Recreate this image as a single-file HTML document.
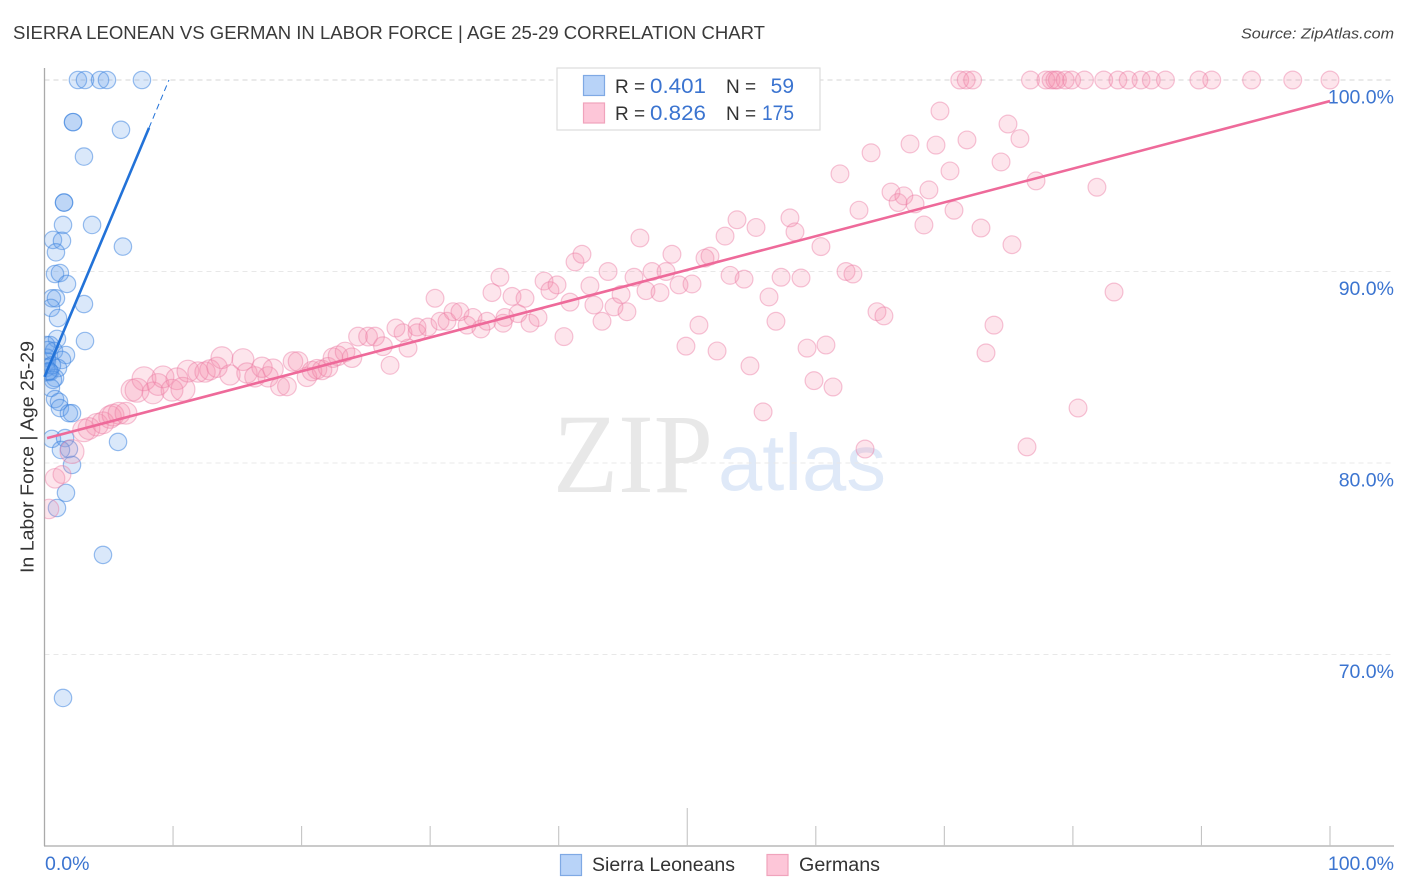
<!DOCTYPE html>
<html lang="en">
<head>
<meta charset="utf-8">
<title>Sierra Leonean vs German In Labor Force Correlation Chart</title>
<style>
html,body{margin:0;padding:0;background:#fff;width:1406px;height:892px;overflow:hidden}
svg{display:block;font-family:"Liberation Sans",sans-serif}
</style>
</head>
<body>
<svg id="chart" xmlns="http://www.w3.org/2000/svg" width="1406" height="892" viewBox="0 0 1406 892">
  <defs>
    <clipPath id="plot-clip"><rect x="44.5" y="60" width="1350" height="786"></rect></clipPath>
  </defs>
  <rect x="0" y="0" width="1406" height="892" fill="#fff"></rect>
  <text x="13" y="39" font-size="18.5" fill="#3a3a3a" textLength="752" lengthAdjust="spacingAndGlyphs">SIERRA LEONEAN VS GERMAN IN LABOR FORCE | AGE 25-29 CORRELATION CHART</text>
  <text x="1394" y="38.5" font-size="15" font-style="italic" fill="#444" text-anchor="end" textLength="153" lengthAdjust="spacingAndGlyphs">Source: ZipAtlas.com</text>
  <text transform="translate(33.5,457) rotate(-90)" font-size="18.5" fill="#333" text-anchor="middle" textLength="232" lengthAdjust="spacingAndGlyphs">In Labor Force | Age 25-29</text>
  <text x="553" y="492" font-family="'Liberation Serif',serif" font-size="113" fill="#e8e8e8" textLength="160" lengthAdjust="spacingAndGlyphs">ZIP</text>
  <text x="718" y="490" font-size="80" fill="#dfe9f8" textLength="168" lengthAdjust="spacingAndGlyphs">atlas</text>
  <g id="grid"></g>
  <g id="axes"></g>
  <g id="points" clip-path="url(#plot-clip)"></g>
  <g id="trends"></g>
  <g>
    <rect x="557" y="68" width="263" height="62" fill="#fff" stroke="#ddd" stroke-width="1.2"></rect>
    <rect x="583.5" y="75.5" width="21" height="20" fill="#b8d3f8" stroke="#7fa9e4" stroke-width="1.2"></rect>
    <rect x="583.5" y="103" width="21" height="20" fill="#fdc6d8" stroke="#f0a3bc" stroke-width="1.2"></rect>
    <text x="615" y="93" font-size="19" fill="#333">R =</text>
    <text x="650" y="93" font-size="21" fill="#3b74d0" textLength="56" lengthAdjust="spacingAndGlyphs">0.401</text>
    <text x="726" y="93" font-size="19" fill="#333">N =</text>
    <text x="794" y="93" font-size="21" fill="#3b74d0" text-anchor="end">59</text>
    <text x="615" y="120" font-size="19" fill="#333">R =</text>
    <text x="650" y="120" font-size="21" fill="#3b74d0" textLength="56" lengthAdjust="spacingAndGlyphs">0.826</text>
    <text x="726" y="120" font-size="19" fill="#333">N =</text>
    <text x="794" y="120" font-size="21" fill="#3b74d0" text-anchor="end" textLength="32" lengthAdjust="spacingAndGlyphs">175</text>
  </g>
  <g>
    <rect x="560.5" y="854.5" width="21" height="21" fill="#b8d3f8" stroke="#7fa9e4" stroke-width="1.2"></rect>
    <text x="592" y="871" font-size="19" fill="#333" textLength="143" lengthAdjust="spacingAndGlyphs">Sierra Leoneans</text>
    <rect x="767" y="854.5" width="21" height="21" fill="#fdc6d8" stroke="#f0a3bc" stroke-width="1.2"></rect>
    <text x="799" y="871" font-size="19" fill="#333" textLength="81" lengthAdjust="spacingAndGlyphs">Germans</text>
  </g>
</svg>
<script>
const xTickValues = [0, 10, 20, 30, 40, 50, 60, 70, 80, 90, 100];
const yTickValues = [100, 90, 80, 70];
const yTickLabels = ["100.0%", "90.0%", "80.0%", "70.0%"];
const xEdgeLabels = ["0.0%", "100.0%"];

const sierraX = [2.6,3.15,4.32,4.86,7.58,2.22,2.22,5.95,3.07,1.52,1.52,3.7,1.44,0.66,1.36,0.89,6.1,0.82,1.2,1.75,0.58,0.89,0.5,3.07,1.05,3.15,0.97,0.43,0.12,0.74,1.67,1.36,0.19,0.19,1.05,0.43,0.12,0.27,0.82,0.66,0.5,0.82,1.13,1.2,1.9,2.14,0.58,1.6,1.9,1.28,2.14,1.67,0.97,5.72,4.55,1.44,0.27,0.58,0.35];
const sierraY = [100,100,100,100,100,97.8,97.8,97.4,96,93.6,93.6,92.43,92.43,91.65,91.6,91,91.3,89.87,89.92,89.35,88.6,88.6,88.1,88.3,87.57,86.37,86.48,86.16,86.16,85.85,85.64,85.38,85.3,85.5,84.96,84.75,84.96,84.75,84.44,84.34,83.92,83.34,83.19,82.87,82.6,82.6,81.26,81.3,80.73,80.68,79.9,78.44,77.65,81.1,75.2,67.73,85.9,85.1,84.8];

const germanX = [0.35,0.82,1.36,2.14,3.07,3.46,4.08,4.55,5.1,5.33,5.8,6.34,6.81,7.2,7.74,8.44,8.83,9.22,10.3,9.92,10.77,11.16,11.94,12.49,12.87,13.42,13.8,14.43,15.44,15.75,16.37,16.92,17.39,17.78,18.32,18.86,19.33,19.72,20.42,20.81,21.2,21.59,22.05,22.44,22.83,23.38,23.92,24.39,25.17,25.71,26.33,26.88,28.28,27.89,28.98,
27.34,28.98,29.83,30.77,31.31,30.38,31.78,32.32,32.87,33.33,33.95,34.42,35.82,35.67,36.83,37.77,38.39,34.81,35.43,36.37,37.38,38.86,39.32,39.87,40.41,40.88,41.27,41.81,42.43,42.74,43.37,43.84,44.3,44.85,45.31,45.86,46.32,46.79,47.26,47.88,48.35,48.81,49.36,49.9,50.37,50.91,51.38,51.77,52.32,52.94,53.33,53.87,54.42,54.88,55.35,55.9,56.36,56.9,57.3,57.99,58.38,58.85,59.32,59.86,60.4,60.79,61.34,61.88,62.35,62.89,63.36,63.83,64.3,64.76,65.3,65.85,66.4,66.85,67.33,67.72,68.41,68.8,69.35,69.66,70.44,70.75,71.76,72.85,73.24,73.86,74.41,74.95,75.26,75.88,76.43,77.13,80.4,81.87,83.2,
71.2,71.7,72.2,76.7,77.9,78.3,78.6,78.8,79.4,79.9,80.9,82.4,83.5,84.3,85.3,86.1,87.2,89.8,90.8,93.9,97.1,100];
const germanY = [77.6,79.2,79.4,80.6,81.7,81.8,82,82.1,82.4,82.5,82.6,82.6,83.8,83.8,84.4,83.66,84.1,84.5,84.4,83.8,83.85,84.8,84.75,84.75,84.86,85,85.5,84.6,85.4,84.7,84.5,85,84.5,84.9,84,84,85.3,85.3,84.5,84.8,84.9,84.86,85,85.5,85.6,85.8,85.5,86.6,86.6,86.6,86.1,85.1,86,86.8,86.8,
87.05,87.1,87.1,87.4,87.4,88.6,87.9,87.9,87.2,87.6,87,87.4,87.6,87.3,87.8,87.3,87.6,88.9,89.7,88.7,88.6,89.5,89,89.3,86.6,88.4,90.5,90.9,89.25,88.25,87.4,90,88.15,88.8,87.9,89.7,91.75,89,90,88.9,90,90.9,89.3,86.1,89.35,87.2,90.7,90.8,85.85,91.85,89.8,92.7,89.6,85.07,92.3,82.67,88.67,87.4,89.7,92.8,92.07,89.66,86,84.3,91.3,86.16,83.97,95.1,90,89.87,93.2,80.73,96.2,87.9,87.68,94.15,93.6,93.95,96.66,93.53,92.43,94.26,96.6,98.38,95.25,93.2,96.87,92.27,85.75,87.2,95.72,97.7,91.4,96.94,80.84,94.73,82.87,94.4,88.93,
100,100,100,100,100,100,100,100,100,100,100,100,100,100,100,100,100,100,100,100,100,100];
const germanPop = [1.2,1.2,1,1.8,1.6,1.5,1.6,1.5,1.6,1.5,1.5,1.5,1.5,1.8,1.8,1.5,1.5,1.5,1.5,1.5,1.8,1.5,1.3,1.3,1.3,1.3,1.5,1.3,1.5,1.3,1.3,1.3,1.3,1.3,1.1,1.1,1.2,1.2,1.2,1.2,1.2,1.2,1.2,1.2,1.2,1.2,1.2,1.1,1.1,1.1,1.1];

const sierraTrendX = [0, 8.13];
const sierraTrendY = [84.5, 97.5];
const sierraDashX = [8.13, 9.68];
const sierraDashY = [97.5, 100];
const germanTrendX = [0.2, 100];
const germanTrendY = [81.3, 98.9];

const SVGNS = "http://www.w3.org/2000/svg";
const xScale = v => 44.5 + v * 12.855;
const yScale = v => 80 + (100 - v) * 19.15;
const radiusScale = p => 8.9 * Math.sqrt(p);

function make(tag, parent, attrs) {
  const el = document.createElementNS(SVGNS, tag);
  for (const k in attrs) el.setAttribute(k, attrs[k]);
  parent.appendChild(el);
  return el;
}

const gridG = document.getElementById("grid");
const axesG = document.getElementById("axes");
const pointsG = document.getElementById("points");
const trendsG = document.getElementById("trends");

yTickValues.forEach((v, i) => {
  const line = make("line", gridG, {
    x1: 44.5, x2: 1394, y1: yScale(v), y2: yScale(v),
    stroke: v === 100 ? "#d4d4d4" : "#e8e8e8", "stroke-width": 1, "stroke-dasharray": "5 4"
  });
  
  
  const label = make("text", axesG, {
    x: 1394, y: yScale(v) + 23.5, "font-size": 19.5, fill: "#3b74d0", "text-anchor": "end"
  });
  
  
  label.textContent = yTickLabels[i];
});

const yAxis = make("line", axesG, { x1: 44.5, x2: 44.5, y1: 68, y2: 846, stroke: "#aaa", "stroke-width": 1.3 });


const xAxis = make("line", axesG, { x1: 44, x2: 1394, y1: 846, y2: 846, stroke: "#aaa", "stroke-width": 1.3 });



xTickValues.forEach(v => {
  if (v === 0) return;
  const tick = make("line", axesG, {
    x1: xScale(v), x2: xScale(v), y1: v === 50 ? 808 : 826, y2: 846, stroke: "#c4c4c4", "stroke-width": 1.1
  });
  
  
});

const xLabelLeft = make("text", axesG, { x: 45, y: 870, "font-size": 19.5, fill: "#3b74d0" });


xLabelLeft.textContent = xEdgeLabels[0];
const xLabelRight = make("text", axesG, { x: 1394, y: 870, "font-size": 19.5, fill: "#3b74d0", "text-anchor": "end" });


xLabelRight.textContent = xEdgeLabels[1];

sierraX.forEach((v, i) => {
  const c = make("circle", pointsG, {
    cx: xScale(v), cy: yScale(sierraY[i]), r: 8.7,
    fill: "rgba(100,160,235,0.24)", stroke: "rgba(60,130,222,0.52)", "stroke-width": 1.2
  });
  
  
});

germanX.forEach((v, i) => {
  const c = make("circle", pointsG, {
    cx: xScale(v), cy: yScale(germanY[i]), r: radiusScale(germanPop[i] || 1),
    fill: "rgba(245,135,170,0.22)", stroke: "rgba(235,125,165,0.45)", "stroke-width": 1.2
  });
  
  
});

const sierraTrend = make("line", trendsG, {
  x1: xScale(sierraTrendX[0]), y1: yScale(sierraTrendY[0]), x2: xScale(sierraTrendX[1]), y2: yScale(sierraTrendY[1]),
  stroke: "#2272d8", "stroke-width": 2.6
});


const sierraDash = make("line", trendsG, {
  x1: xScale(sierraDashX[0]), y1: yScale(sierraDashY[0]), x2: xScale(sierraDashX[1]), y2: yScale(sierraDashY[1]),
  stroke: "#2272d8", "stroke-width": 1, "stroke-dasharray": "6 4"
});


const germanTrend = make("line", trendsG, {
  x1: xScale(germanTrendX[0]), y1: yScale(germanTrendY[0]), x2: xScale(germanTrendX[1]), y2: yScale(germanTrendY[1]),
  stroke: "#ee6a9a", "stroke-width": 2.6
});


</script>
</body>
</html>
